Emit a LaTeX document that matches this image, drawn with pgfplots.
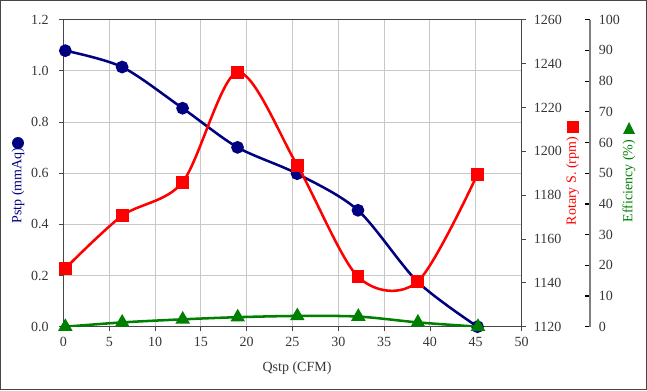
\documentclass[border=0pt]{standalone}
\usepackage{pgfplots}
\pgfplotsset{compat=1.18}
\usepackage{fontspec}
\setmainfont{Liberation Serif}
\definecolor{navy}{RGB}{0,0,128}
\definecolor{effgreen}{RGB}{0,128,0}
\definecolor{axgray}{RGB}{70,70,70}
\definecolor{gridgray}{RGB}{200,200,200}
\definecolor{txtgray}{RGB}{55,55,55}

\pgfplotstableread{
x y
0.2 1.079
6.4 1.015
13.0 0.854
19.0 0.701
25.5 0.598
32.15 0.455
38.65 0.176
45.2 0.0
}\pstp
\pgfplotstableread{
x y
0.2 1146.6
6.4 1170.6
13.0 1185.9
19.0 1236.0
25.5 1193.7
32.15 1142.8
38.65 1140.5
45.2 1189.6
}\rpm
\pgfplotstableread{
x y
0.2 0.0
6.4 1.4
13.0 2.4
19.0 3.1
25.5 3.5
32.15 3.3
38.65 1.4
45.2 0.0
}\eff

\begin{document}
\begin{tikzpicture}
\fontsize{10.5}{12.5}\selectfont
\path (0pt,0pt) rectangle (485.25pt,292.5pt);
\draw[draw=axgray, line width=1.1pt] (0.55pt,0.55pt) rectangle (484.7pt,291.95pt);
\pgfplotsset{
  common/.style={
    at={(47.625pt,47.475pt)}, anchor=south west, scale only axis,
    height=230.25pt,
    ticklabel style={font=\fontsize{10.5}{12.5}\selectfont, text=txtgray},
    /pgf/number format/assume math mode=true,
    /pgf/number format/1000 sep={},
    scaled ticks=false,
    tick style={axgray, line width=0.6pt},
    major tick length=3.5pt,
  }
}
% main axis: Pstp
\begin{axis}[common,
  width=343.5pt,
  xmin=0, xmax=50, ymin=0, ymax=1.2,
  xtick={0,5,...,50}, ytick={0,0.2,...,1.2},
  xtick pos=left, ytick pos=left,
  tick align=outside,
  grid=major, major grid style={gridgray, line width=0.8pt},
  axis line style={axgray, line width=0.9pt},
  yticklabel style={xshift=-4pt, /pgf/number format/.cd, fixed, fixed zerofill, precision=1},
  xticklabel style={yshift=-1pt},
]
\addplot[navy, line width=1.9pt, smooth, tension=0.5, mark=*, mark size=3.8pt,
  mark options={solid, fill=navy, draw=navy}] table {\pstp};
\end{axis}
% rpm axis
\begin{axis}[common,
  width=343.5pt,
  xmin=0, xmax=50, ymin=1120, ymax=1260,
  ytick={1120,1140,...,1260},
  axis x line=none, axis y line*=right,
  tick align=outside,
  axis line style={axgray, line width=0.9pt},
  yticklabel style={xshift=2pt},
]
\addplot[red, line width=1.9pt, smooth, tension=0.5, mark=square*, mark size=3.9pt,
  mark options={solid, fill=red, draw=red}] table {\rpm};
\end{axis}
% efficiency axis
\begin{axis}[common,
  width=394.875pt,
  xmin=0, xmax=57.415, ymin=0, ymax=100,
  ytick={0,10,...,100},
  axis x line=none, axis y line*=right,
  tick align=inside,
  axis line style={gray, line width=0.9pt},
  tick style={black, line width=0.9pt},
  yticklabel style={xshift=3pt},
]
\addplot[effgreen, line width=1.9pt, smooth, tension=0.5, mark=triangle*, mark size=4.4pt,
  mark options={solid, fill=effgreen, draw=effgreen}] table {\eff};
\end{axis}
% labels
\node[rotate=90, text=navy, inner sep=0pt] at (13.5pt,153.4pt) {Pstp (mmAq)};
\fill[navy] (13.5pt,185.25pt) circle (4.5pt);
\node[text=txtgray] at (222.75pt,16.5pt) {Qstp (CFM)};
\node[rotate=90, text=red, inner sep=0pt] at (429.4pt,156.75pt) {Rotary S. (rpm)};
\fill[red] (424.9pt,192.75pt) rectangle (433.9pt,201.75pt);
\node[rotate=90, text=effgreen, inner sep=0pt] at (471.75pt,156.75pt) {Efficiency (\%)};
\fill[effgreen] (467.25pt,192pt) -- (476.25pt,192pt) -- (471.75pt,201pt) -- cycle;
\end{tikzpicture}
\end{document}
